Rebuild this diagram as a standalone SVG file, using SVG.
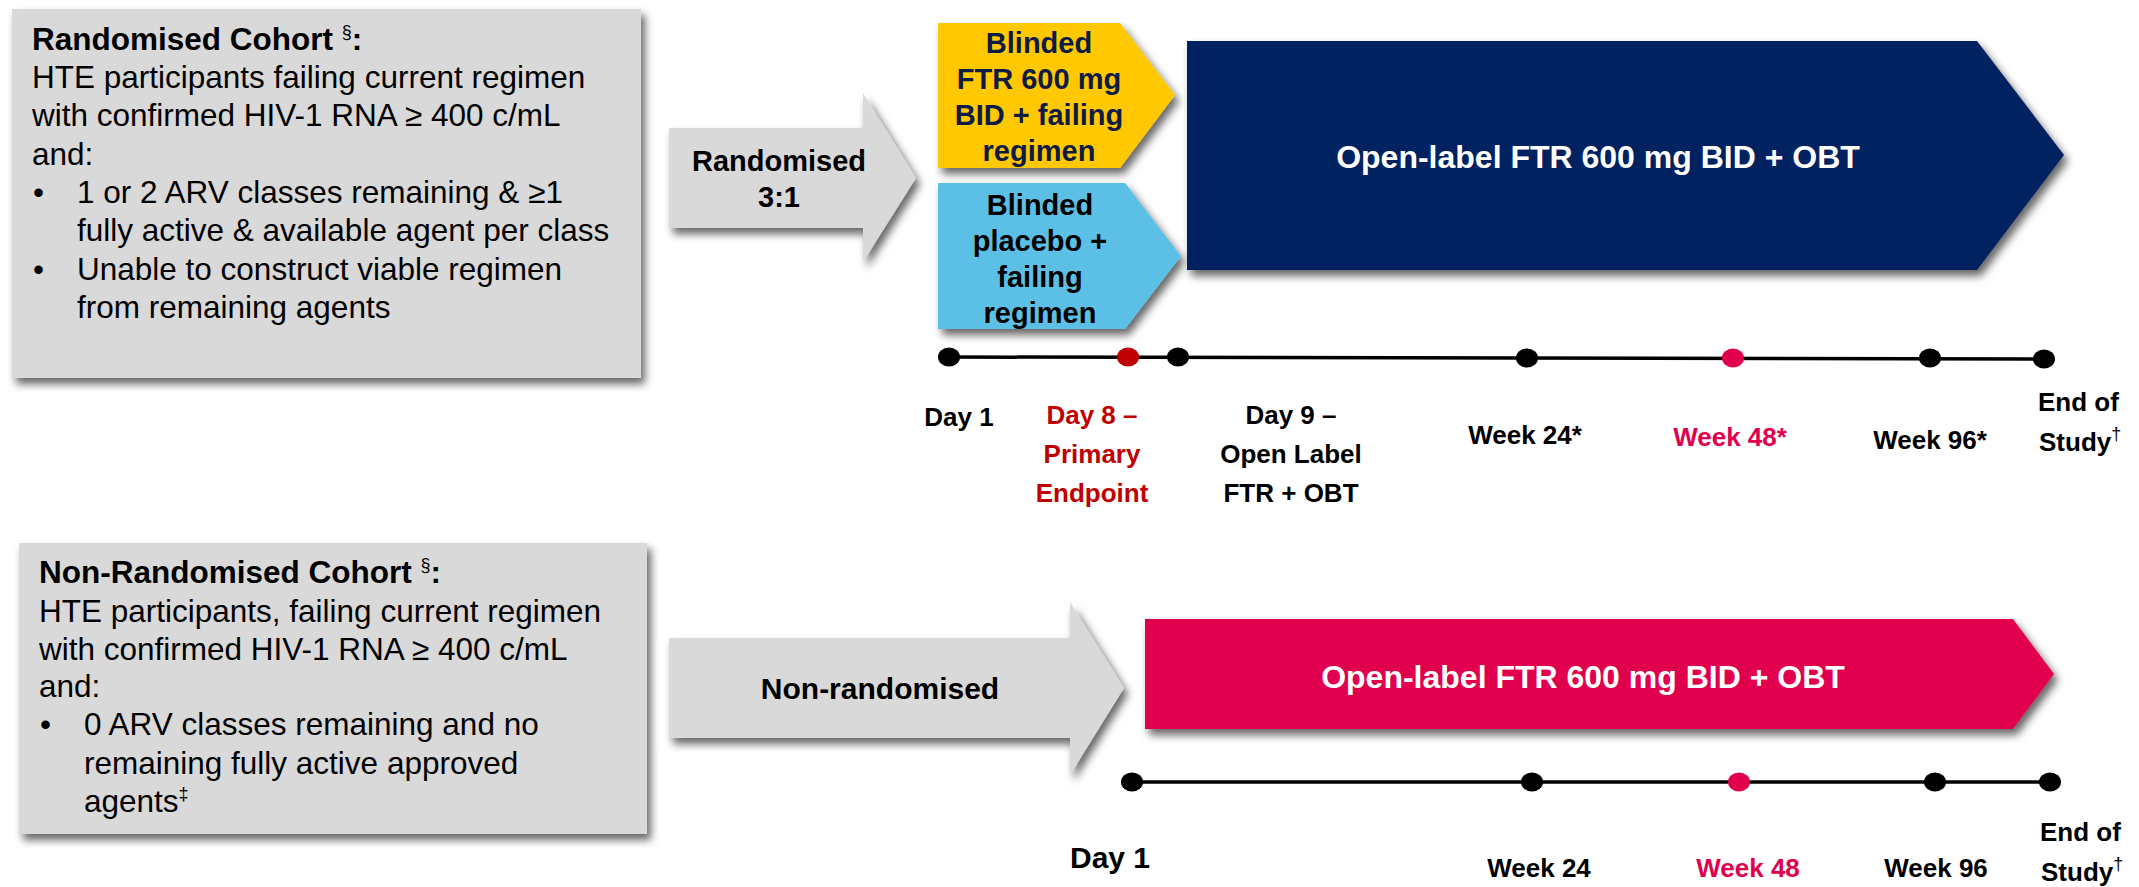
<svg xmlns="http://www.w3.org/2000/svg" width="2139" height="887" viewBox="0 0 2139 887">
<style>
text{font-family:"Liberation Sans",Arial,sans-serif;}
.body{font-size:31.5px;fill:#000;}
.b{font-weight:bold;}
.arr{font-size:29px;font-weight:bold;fill:#000;text-anchor:middle;}
.bar{font-size:32px;font-weight:bold;fill:#fff;text-anchor:middle;}
.tl{font-size:26px;font-weight:bold;fill:#000;text-anchor:middle;}
.sup{font-size:18px;font-weight:normal;}
.gray{fill:#d9d9d9;}
.line{stroke:#000;stroke-width:3.5;fill:none;}
</style>
<defs>
<filter id="sh" x="-10%" y="-10%" width="125%" height="135%">
<feDropShadow dx="4" dy="6" stdDeviation="4.5" flood-color="#000" flood-opacity="0.6"/>
</filter>
</defs>

<g id="randomised-cohort">
<rect class="gray" x="12" y="9" width="629" height="369" filter="url(#sh)"/>
<text class="body" x="32" y="50"><tspan class="b">Randomised Cohort </tspan><tspan class="sup" dy="-12">§</tspan><tspan class="b" dy="12">:</tspan></text>
<text class="body" x="32" y="87.5">HTE participants failing current regimen</text>
<text class="body" x="32" y="126">with confirmed HIV-1 RNA ≥ 400 c/mL</text>
<text class="body" x="32" y="164.5">and:</text>
<text class="body" x="33" y="203">•</text>
<text class="body" x="77" y="203">1 or 2 ARV classes remaining &amp; ≥1</text>
<text class="body" x="77" y="241">fully active &amp; available agent per class</text>
<text class="body" x="33" y="279.5">•</text>
<text class="body" x="77" y="279.5">Unable to construct viable regimen</text>
<text class="body" x="77" y="317.5">from remaining agents</text>
</g>

<g id="randomised-arrow">
<path class="gray" d="M669,128 L863,128 L863,93 L916,178 L863,262 L863,228 L669,228 Z" filter="url(#sh)"/>
<text class="arr" x="779" y="171">Randomised</text>
<text class="arr" x="779" y="207">3:1</text>
</g>

<g id="blinded-ftr">
<path d="M938,23 L1120,23 L1175,95 L1120,168 L938,168 Z" fill="#ffc800" filter="url(#sh)"/>
<text class="arr" x="1039" y="53" style="fill:#0d1b45">Blinded</text>
<text class="arr" x="1039" y="89" style="fill:#0d1b45">FTR 600 mg</text>
<text class="arr" x="1039" y="125" style="fill:#0d1b45">BID + failing</text>
<text class="arr" x="1039" y="161" style="fill:#0d1b45">regimen</text>
</g>

<g id="blinded-placebo">
<path d="M938,183 L1125,183 L1181,256 L1125,329 L938,329 Z" fill="#5bc0e6" filter="url(#sh)"/>
<text class="arr" x="1040" y="215">Blinded</text>
<text class="arr" x="1040" y="251">placebo +</text>
<text class="arr" x="1040" y="287">failing</text>
<text class="arr" x="1040" y="323">regimen</text>
</g>

<g id="open-label-randomised">
<path d="M1187,41 L1977,41 L2064,155 L1977,270 L1187,270 Z" fill="#022060" filter="url(#sh)"/>
<text class="bar" x="1598" y="168">Open-label FTR 600 mg BID + OBT</text>
</g>

<g id="timeline-randomised">
<line class="line" x1="949" y1="357" x2="2044" y2="359"/>
<ellipse cx="949" cy="357" rx="11" ry="9.5" fill="#000"/>
<ellipse cx="1128" cy="357" rx="11" ry="9.5" fill="#c00000"/>
<ellipse cx="1178" cy="357" rx="11" ry="9.5" fill="#000"/>
<ellipse cx="1527" cy="358" rx="11" ry="9.5" fill="#000"/>
<ellipse cx="1733" cy="358" rx="11" ry="9.5" fill="#e0004d"/>
<ellipse cx="1930" cy="358" rx="11" ry="9.5" fill="#000"/>
<ellipse cx="2044" cy="359" rx="11" ry="9.5" fill="#000"/>
<text class="tl" x="959" y="426">Day 1</text>
<text class="tl" x="1092" y="424" style="fill:#c00000">Day 8 –</text>
<text class="tl" x="1092" y="463" style="fill:#c00000">Primary</text>
<text class="tl" x="1092" y="502" style="fill:#c00000">Endpoint</text>
<text class="tl" x="1291" y="424">Day 9 –</text>
<text class="tl" x="1291" y="463">Open Label</text>
<text class="tl" x="1291" y="502">FTR + OBT</text>
<text class="tl" x="1525" y="444">Week 24*</text>
<text class="tl" x="1730" y="446" style="fill:#e0004d">Week 48*</text>
<text class="tl" x="1930" y="449">Week 96*</text>
<text class="tl" x="2038" y="411" style="text-anchor:start">End of</text>
<text class="tl" x="2039" y="451" style="text-anchor:start">Study<tspan class="sup" dy="-11">†</tspan></text>
</g>

<g id="non-randomised-cohort">
<rect class="gray" x="19" y="543" width="628" height="291" filter="url(#sh)"/>
<text class="body" x="39" y="583"><tspan class="b">Non-Randomised Cohort </tspan><tspan class="sup" dy="-12">§</tspan><tspan class="b" dy="12">:</tspan></text>
<text class="body" x="39" y="621.5">HTE participants, failing current regimen</text>
<text class="body" x="39" y="659.5">with confirmed HIV-1 RNA ≥ 400 c/mL</text>
<text class="body" x="39" y="697">and:</text>
<text class="body" x="40" y="735">•</text>
<text class="body" x="84" y="735">0 ARV classes remaining and no</text>
<text class="body" x="84" y="773.5">remaining fully active approved</text>
<text class="body" x="84" y="812">agents<tspan class="sup" dy="-12">‡</tspan></text>
</g>

<g id="non-randomised-arrow">
<path class="gray" d="M669,638 L1070,638 L1070,602 L1124,688 L1070,775 L1070,738 L669,738 Z" filter="url(#sh)"/>
<text class="arr" x="880" y="699" style="font-size:30px">Non-randomised</text>
</g>

<g id="open-label-non-randomised">
<path d="M1145,619 L2013,619 L2054,674 L2013,729 L1145,729 Z" fill="#e0004d" filter="url(#sh)"/>
<text class="bar" x="1583" y="688">Open-label FTR 600 mg BID + OBT</text>
</g>

<g id="timeline-non-randomised">
<line class="line" x1="1132" y1="782" x2="2050" y2="782"/>
<ellipse cx="1132" cy="782" rx="11" ry="9.5" fill="#000"/>
<ellipse cx="1532" cy="782" rx="11" ry="9.5" fill="#000"/>
<ellipse cx="1739" cy="782" rx="11" ry="9.5" fill="#e0004d"/>
<ellipse cx="1935" cy="782" rx="11" ry="9.5" fill="#000"/>
<ellipse cx="2050" cy="782" rx="11" ry="9.5" fill="#000"/>
<text class="tl" x="1110" y="868" style="font-size:30px">Day 1</text>
<text class="tl" x="1539" y="877">Week 24</text>
<text class="tl" x="1748" y="877" style="fill:#e0004d">Week 48</text>
<text class="tl" x="1936" y="877">Week 96</text>
<text class="tl" x="2040" y="841" style="text-anchor:start">End of</text>
<text class="tl" x="2041" y="881" style="text-anchor:start">Study<tspan class="sup" dy="-11">†</tspan></text>
</g>
</svg>
